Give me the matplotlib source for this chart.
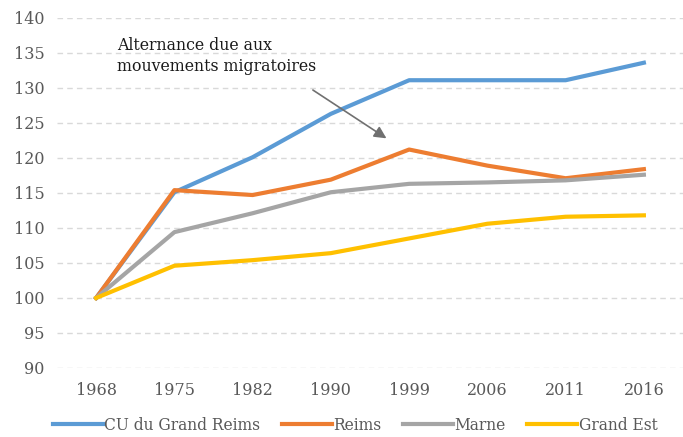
import matplotlib.pyplot as plt

# Population index (base 100 in 1968)
years = ['1968', '1975', '1982', '1990', '1999', '2006', '2011', '2016']
cu_grand_reims = [100, 115.1, 120.1, 126.3, 131.1, 131.1, 131.1, 133.6]
reims = [100, 115.4, 114.7, 116.9, 121.2, 118.9, 117.1, 118.4]
marne = [100, 109.4, 112.1, 115.1, 116.3, 116.5, 116.8, 117.6]
grand_est = [100, 104.6, 105.4, 106.4, 108.5, 110.6, 111.6, 111.8]

plt.rcParams['font.family'] = ['DejaVu Serif']

fig, ax = plt.subplots(figsize=(6.83, 4.37), dpi=100)
fig.subplots_adjust(left=0.0835, right=1.0, top=0.959, bottom=0.158)

x = range(len(years))
ax.plot(x, cu_grand_reims, color='#5b9bd5', lw=3, label='CU du Grand Reims')
ax.plot(x, reims, color='#ed7d31', lw=3, label='Reims')
ax.plot(x, marne, color='#a5a5a5', lw=3, label='Marne')
ax.plot(x, grand_est, color='#ffc000', lw=3, label='Grand Est')

ax.set_ylim(90, 140)
ax.set_yticks(range(90, 141, 5))
ax.set_xlim(-0.5, 7.5)
ax.set_xticks(list(x))
ax.set_xticklabels(years)
ax.tick_params(length=0, labelsize=11.5, colors='#595959', pad=10)
ax.tick_params(axis='y', pad=9)

ax.grid(axis='y', color='#d9d9d9', linestyle=(0, (4, 3)), lw=1)
ax.set_axisbelow(True)
for s in ax.spines.values():
    s.set_visible(False)

# annotation about migration
ax.text(0.27, 137.3, 'Alternance due aux\nmouvements migratoires',
        fontsize=11.3, color='#1a1a1a', va='top', ha='left',
        linespacing=1.3)
ax.annotate('', xy=(3.71, 122.8), xytext=(2.77, 129.7),
            arrowprops=dict(arrowstyle='-|>', color='#707070', lw=1.2,
                            mutation_scale=18, shrinkA=0, shrinkB=0))

leg = fig.legend(loc='lower center', ncol=4, frameon=False,
                 bbox_to_anchor=(0.52, -0.025), fontsize=11.2,
                 handlelength=3.2, handletextpad=0.1, columnspacing=1.4)
for t in leg.get_texts():
    t.set_color('#595959')

fig.savefig('out.png', dpi=100)
